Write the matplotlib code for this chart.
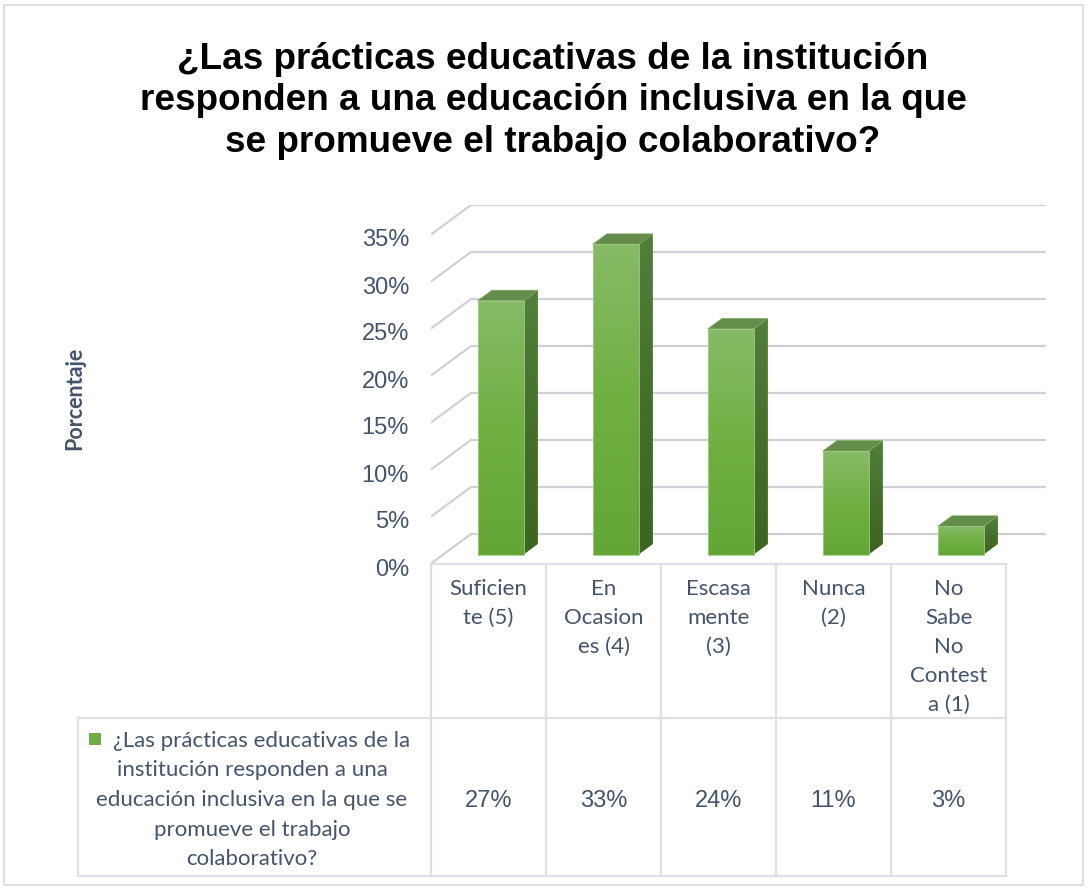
import numpy as np
import matplotlib.pyplot as plt
from matplotlib.patches import Polygon, Rectangle
from matplotlib.colors import LinearSegmentedColormap
from matplotlib.transforms import blended_transform_factory, offset_copy

# Datos del gráfico
categorias = ["Suficien\nte (5)", "En\nOcasion\nes (4)", "Escasa\nmente\n(3)",
              "Nunca\n(2)", "No\nSabe\nNo\nContest\na (1)"]
valores = [27, 33, 24, 11, 3]
ticks = [0, 5, 10, 15, 20, 25, 30, 35]
serie = ("¿Las prácticas educativas de la\ninstitución responden a una\n"
         "educación inclusiva en la que se\npromueve el trabajo\ncolaborativo?")
titulo = ("¿Las prácticas educativas de la institución\n"
          "responden a una educación inclusiva en la que\n"
          "se promueve el trabajo colaborativo?")
eje_y = "Porcentaje"

W, H = 1088, 890
TXT = "#44546A"
GRID = "#d0d1d6"
LINEA_TABLA = "#dde1e6"


def fx(px):
    return px / W


def fy(py):
    return 1 - py / H


def cara_degradada(ax, verts, colores, z):
    """Polígono relleno con degradado vertical."""
    poly = Polygon(verts, closed=True, facecolor="none", edgecolor="none", zorder=z)
    ax.add_patch(poly)
    xs = [p[0] for p in verts]
    ys = [p[1] for p in verts]
    grad = np.linspace(0, 1, 256).reshape(-1, 1)
    cmap = LinearSegmentedColormap.from_list("g", colores)
    im = ax.imshow(grad, extent=(min(xs), max(xs), min(ys), max(ys)), origin="upper",
                   cmap=cmap, aspect="auto", zorder=z, interpolation="bilinear")
    im.set_clip_path(poly)


fig = plt.figure(figsize=(W / 100, H / 100), dpi=100)

# marco del gráfico
fig.patches.append(Rectangle((fx(4), fy(885)), fx(1079), (885 - 5) / H,
                             transform=fig.transFigure, fill=False,
                             edgecolor="#d9d9d9", lw=1.2))

# área de trazado (con profundidad 3D simulada)
D = 40 / 115        # desplazamiento de profundidad en unidades de categoría
DY = 29.5 / 9.4     # desplazamiento de profundidad en %
ax = fig.add_axes([fx(431), fy(563.5), (1046 - 431) / W, (563.5 - 205) / H])

for t in ticks:
    ax.plot([0, D, len(valores) + D], [t, t + DY, t + DY], color=GRID, lw=1.6,
            zorder=1, solid_capstyle="butt")

BW = 0.4
F0, F1 = 0.305, 0.66
bx, by = (F1 - F0) * D, (F1 - F0) * DY
for i, v in enumerate(valores):
    x0 = i + 0.5 - BW / 2 + F0 * D
    x1 = x0 + BW
    y0 = F0 * DY
    y1 = y0 + v
    z = 3 + i
    cara_degradada(ax, [(x0, y0), (x1, y0), (x1, y1), (x0, y1)],
                   ["#86bb66", "#70b043", "#63a537"], z)
    cara_degradada(ax, [(x1, y0), (x1 + bx, y0 + by), (x1 + bx, y1 + by), (x1, y1)],
                   ["#527f3c", "#466f2c", "#3c6522"], z)
    ax.add_patch(Polygon([(x0, y1), (x1, y1), (x1 + bx, y1 + by), (x0 + bx, y1 + by)],
                         closed=True, facecolor="#648c4a", edgecolor="#7fa866",
                         lw=0.5, zorder=z))
    ax.add_patch(Polygon([(x0, y0), (x1, y0), (x1, y1), (x0, y1)], closed=True,
                         facecolor="none", edgecolor="#a5cc8a", lw=0.6, zorder=z + 0.1))

ax.set_xlim(0, len(valores) + D)
ax.set_ylim(0, ticks[-1] + DY)
ax.axis("off")

# etiquetas del eje Y
tr_y = offset_copy(ax.transData, fig=fig, x=-22, y=-6, units="dots")
for t in ticks:
    ax.text(0, t, f"{t}%", transform=tr_y, ha="right", va="center",
            fontsize=17, color=TXT, family="Liberation Sans", clip_on=False)

# tabla de datos
tr = blended_transform_factory(ax.transData, fig.transFigure)
x_izq = (78 - 431) / 115
n = len(valores)
kw = dict(color=LINEA_TABLA, lw=1.6, transform=tr, clip_on=False, zorder=0)
ax.plot([0, n], [fy(563.5), fy(563.5)], **kw)
ax.plot([x_izq, n], [fy(718), fy(718)], **kw)
ax.plot([x_izq, n], [fy(876), fy(876)], **kw)
ax.plot([x_izq, x_izq], [fy(718), fy(876)], **kw)
for k in range(n + 1):
    ax.plot([k, k], [fy(563.5), fy(876)], **kw)

for i, cat in enumerate(categorias):
    for j, linea in enumerate(cat.split("\n")):
        ax.text(i + 0.5, fy(589 + 29 * j), linea, transform=tr, ha="center",
                va="center", fontsize=16, color=TXT, family="Lato", clip_on=False)
for i, v in enumerate(valores):
    ax.text(i + 0.5, fy(801), f"{v}%", transform=tr, ha="center", va="center",
            fontsize=17, color=TXT, family="Liberation Sans", clip_on=False)

# encabezado de la serie con su clave de color
fig.patches.append(Rectangle((fx(89), fy(745)), 12 / W, 12 / H,
                             transform=fig.transFigure, facecolor="#70ad47",
                             edgecolor="none"))
for j, linea in enumerate(serie.split("\n")):
    cx = 262 if j == 0 else 252
    fig.text(fx(cx), fy(741 + 29.5 * j), linea, ha="center", va="center",
             fontsize=16, color=TXT, family="Lato")

# título y eje Y
fig.text(fx(553), fy(101), titulo, ha="center", va="center", fontsize=26.6,
         fontweight="bold", family="Liberation Sans", linespacing=1.25)
fig.text(fx(75), fy(398), eje_y, rotation=90, ha="center", va="center",
         fontsize=15.5, fontweight="bold", color=TXT, family="Lato")

fig.savefig("out.png", dpi=100)
